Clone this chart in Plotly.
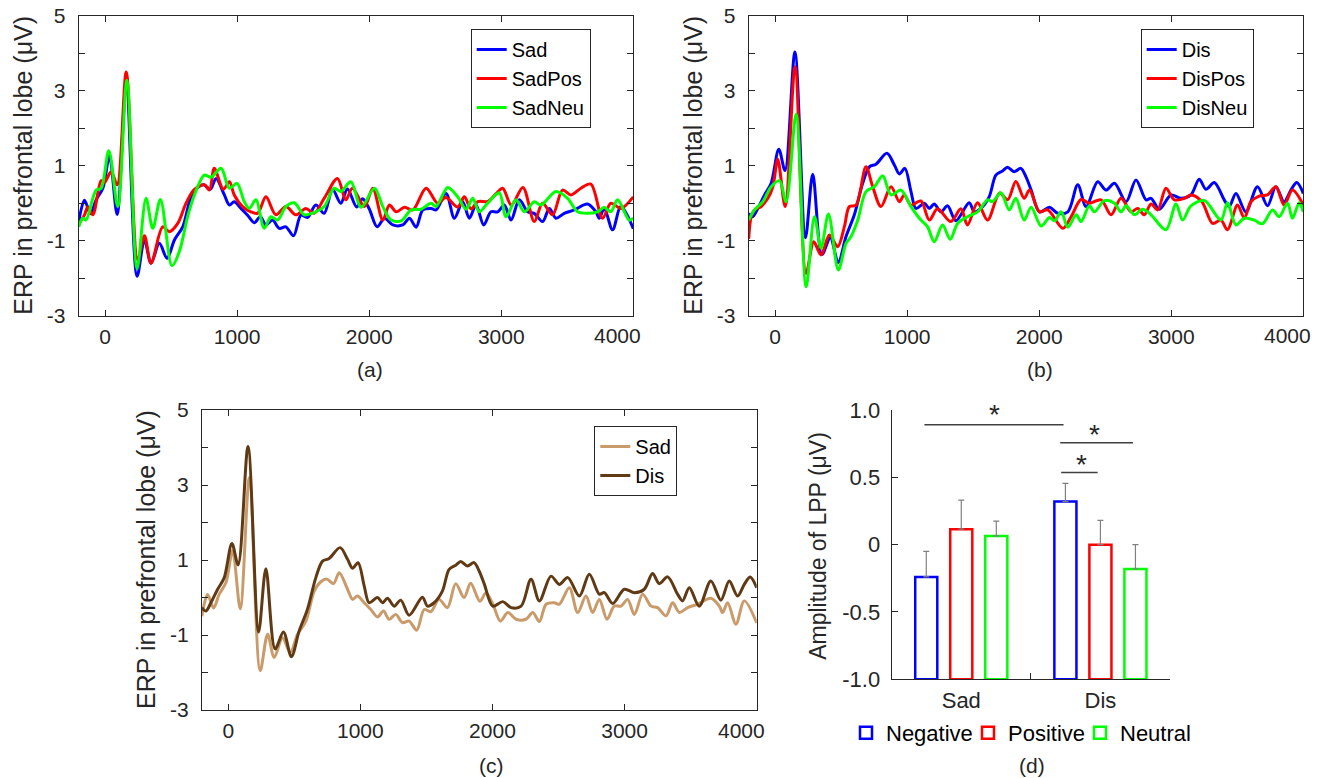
import plotly.graph_objects as go

# ---------------- data ----------------
# Panel (a): Sad conditions
sad_t = [-200, -156, -111, -68, -17, 33, 91, 160, 242, 298, 348, 411, 469, 525, 588, 651, 701, 746, 797,
         840, 903, 941, 978, 1029, 1079, 1130, 1175, 1218, 1268, 1319, 1369, 1427, 1483, 1533, 1596, 1659,
         1722, 1785, 1835, 1905, 1950, 2000, 2060, 2116, 2179, 2254, 2305, 2355, 2406, 2469, 2506, 2582,
         2645, 2708, 2758, 2809, 2867, 2922, 2973, 3023, 3074, 3137, 3200, 3250, 3313, 3364, 3414, 3477,
         3553, 3653, 3717, 3742, 3780, 3843, 3906, 4000]
sad_v = [-0.5, 0.08, -0.28, 0.09, 0.40, 1.25, -0.30, 3.2, -1.95, -0.98, -1.6, -1.07, -1.47, -0.98, -0.63,
         0.17, 0.42, 0.49, 0.37, 0.66, 0.22, -0.05, 0.04, -0.14, -0.32, -0.52, -0.36, -0.58, -0.45, -0.67,
         -0.63, -0.87, -0.32, -0.38, -0.05, -0.27, 0.37, 0.0, 0.38, -0.1, 0.12, -0.15, -0.63, -0.40, -0.58,
         -0.58, -0.40, -0.64, -0.18, -0.14, -0.18, 0.26, -0.40, 0.04, -0.40, -0.05, -0.58, -0.23, -0.23,
         -0.05, -0.45, 0.09, -0.23, -0.27, -0.49, -0.14, -0.40, -0.27, -0.18, -0.02, -0.23, -0.40, -0.14,
         -0.71, -0.09, -0.68]

sadpos_t = [-200, -156, -131, -93, -30, -5, 46, 91, 160, 247, 298, 348, 436, 487, 550, 613, 676, 752, 790,
            827, 895, 941, 978, 1041, 1104, 1155, 1218, 1293, 1369, 1445, 1520, 1583, 1659, 1760, 1823,
            1873, 1964, 2027, 2103, 2153, 2204, 2267, 2330, 2431, 2518, 2581, 2670, 2721, 2771, 2822, 2900,
            2960, 3011, 3076, 3164, 3250, 3313, 3389, 3464, 3528, 3603, 3679, 3767, 3830, 3906, 4000]
sadpos_v = [-0.55, -0.31, -0.1, -0.31, 0.6, 0.55, 0.84, 0.49, 3.5, -1.51, -0.87, -1.6, -0.63, -0.76, -0.54,
            0.0, 0.37, 0.49, 0.35, 0.93, 0.37, 0.57, 0.22, -0.09, -0.23, -0.27, 0.17, -0.31, -0.09, -0.31,
            -0.14, -0.27, 0.13, 0.66, 0.09, 0.40, -0.09, 0.40, -0.45, -0.05, -0.23, -0.11, -0.18, 0.40, 0.0,
            0.15, -0.1, 0.17, -0.15, 0.04, 0.05, 0.25, 0.40, -0.05, 0.42, -0.49, 0.0, -0.31, 0.35, 0.22,
            0.40, 0.51, -0.40, 0.0, -0.14, 0.17]

sadneu_t = [-200, -169, -145, -93, -68, -30, 28, 96, 165, 242, 310, 361, 419, 507, 562, 625, 676, 752, 802,
            878, 941, 999, 1054, 1092, 1142, 1205, 1256, 1306, 1369, 1432, 1508, 1583, 1659, 1735, 1785,
            1861, 1939, 2040, 2103, 2166, 2242, 2317, 2393, 2469, 2506, 2595, 2670, 2733, 2784, 2834, 2897,
            2985, 3036, 3111, 3175, 3250, 3300, 3414, 3502, 3578, 3653, 3729, 3780, 3830, 3881, 3969, 4000]
sadneu_v = [-0.63, -0.40, -0.45, 0.13, 0.35, 0.40, 1.40, -0.09, 3.28, -1.75, 0.13, -0.67, 0.10, -1.67,
            -1.29, -0.36, 0.22, 0.75, 0.69, 0.93, 0.40, 0.53, 0.04, -0.14, 0.09, -0.67, -0.36, -0.45, -0.09,
            0.01, -0.31, -0.25, -0.09, 0.40, 0.31, 0.57, -0.11, 0.40, -0.09, -0.45, -0.47, -0.18, -0.16, 0.0,
            -0.09, 0.42, 0.17, -0.16, 0.13, -0.23, 0.0, 0.28, -0.36, 0.09, -0.23, 0.04, -0.05, 0.31, 0.13,
            -0.23, -0.27, -0.23, -0.11, -0.23, 0.09, -0.45, -0.40]

# Panel (b): Disgust conditions
dis_t = [-200, -169, -131, -80, -30, 28, 75, 150, 230, 285, 355, 418, 478, 537, 600, 663, 714, 764, 847,
         903, 941, 983, 1029, 1067, 1130, 1168, 1205, 1256, 1306, 1369, 1470, 1508, 1558, 1621, 1672, 1722,
         1760, 1810, 1861, 1900, 1939, 2002, 2078, 2141, 2217, 2292, 2355, 2443, 2506, 2570, 2658, 2733,
         2809, 2847, 2910, 2998, 3074, 3149, 3212, 3263, 3326, 3401, 3439, 3490, 3565, 3653, 3729, 3792,
         3855, 3906, 3951, 4000]
dis_v = [-0.27, -0.36, -0.14, 0.22, 0.53, 1.44, 0.87, 4.03, -0.92, 0.77, -1.37, -0.92, -1.58, -0.89, -0.31,
         0.53, 0.97, 1.04, 1.33, 1.02, 0.78, 0.93, 0.31, -0.14, 0.0, -0.14, -0.02, -0.23, -0.07, -0.47, 0.01,
         -0.23, -0.14, 0.17, 0.75, 0.86, 0.96, 0.84, 0.93, 0.7, 0.35, -0.23, -0.11, -0.27, -0.23, 0.49,
         -0.09, 0.57, 0.35, 0.53, 0.04, 0.62, 0.09, 0.13, -0.16, 0.22, 0.13, 0.22, 0.64, 0.37, 0.55, 0.09,
         -0.09, 0.26, -0.23, 0.44, -0.07, 0.44, 0.04, 0.35, 0.55, 0.26]

dispos_t = [-200, -181, -156, -106, -55, -17, 20, 76, 151, 235, 293, 348, 411, 474, 525, 562, 613, 688, 739,
            802, 878, 941, 978, 1029, 1104, 1168, 1230, 1331, 1407, 1457, 1533, 1609, 1700, 1761, 1823,
            1886, 1927, 2002, 2065, 2179, 2242, 2317, 2380, 2469, 2544, 2620, 2695, 2746, 2796, 2847, 2897,
            2960, 3023, 3099, 3150, 3230, 3313, 3376, 3426, 3502, 3553, 3603, 3666, 3729, 3792, 3855, 3918,
            4000]
dispos_v = [-0.95, -0.36, -0.18, -0.09, 0.13, 0.44, 1.17, -0.09, 3.64, -1.87, -1.03, -1.38, -0.85, -1.16,
            -0.62, -0.09, -0.05, 0.97, 0.44, -0.09, 0.44, 0.04, 0.22, -0.05, 0.06, -0.45, -0.15, -0.49,
            -0.15, -0.58, 0.01, -0.45, 0.27, 0.09, 0.58, 0.13, 0.35, -0.23, -0.18, -0.67, -0.36, 0.10, 0.0,
            0.09, -0.31, 0.13, -0.23, -0.14, -0.31, -0.02, -0.18, 0.40, 0.09, 0.13, 0.22, 0.05, -0.54, -0.45,
            -0.71, -0.05, -0.40, 0.04, 0.19, 0.22, 0.44, -0.05, 0.35, -0.05]

disneu_t = [-200, -156, -93, -30, 33, 83, 159, 235, 298, 348, 404, 479, 537, 575, 626, 688, 752, 815, 878,
            953, 1029, 1104, 1155, 1205, 1268, 1326, 1382, 1457, 1533, 1609, 1646, 1710, 1773, 1823, 1886,
            1939, 2015, 2078, 2116, 2166, 2217, 2280, 2317, 2380, 2418, 2494, 2570, 2620, 2658, 2721, 2784,
            2847, 2960, 3036, 3086, 3149, 3250, 3376, 3426, 3490, 3553, 3628, 3691, 3767, 3817, 3881, 3918,
            3969, 4000]
disneu_v = [-0.45, -0.18, 0.04, 0.44, 0.60, 0.04, 2.38, -2.23, -0.36, -1.2, -0.29, -1.78, -1.07, -0.89,
            -0.45, 0.31, 0.44, 0.73, 0.22, 0.35, -0.09, -0.45, -0.63, -1.03, -0.58, -0.96, -0.54, -0.36,
            -0.23, 0.09, 0.04, 0.28, -0.18, 0.13, -0.45, -0.11, -0.61, -0.38, -0.47, -0.23, -0.64, -0.31,
            -0.49, -0.07, -0.23, 0.07, 0.0, -0.23, -0.07, -0.31, -0.16, -0.31, -0.71, -0.02, -0.45, -0.07,
            0.07, -0.45, 0.01, -0.58, -0.40, -0.45, -0.55, -0.18, -0.36, 0.0, -0.40, 0.01, -0.23]

# Panel (d): LPP amplitudes (bars rise from the -1.0 baseline)
lpp_groups = ["Sad", "Dis"]
lpp_negative = [-0.24, 0.32]
lpp_positive = [0.115, 0.0]
lpp_neutral = [0.065, -0.18]
err_negative = [0.19, 0.135]
err_positive = [0.215, 0.18]
err_neutral = [0.11, 0.18]
sig_x0 = [-0.265, 0.711, 0.718]
sig_x1 = [0.735, 1.234, 0.980]
sig_y = [0.891, 0.757, 0.535]
star_x = [0.238, 0.955, 0.862]
star_y = [1.006, 0.852, 0.634]

erp_ticks = [0, 1000, 2000, 3000, 4000]
erp_ticktext = ["0", "1000", "2000", "3000", ""]   # last label drawn right-aligned at the axis end
erp_last_label = "4000"
erp_yticks = [-3, -2, -1, 0, 1, 2, 3, 4, 5]
erp_yticktext = ["-3", "", "-1", "", "1", "", "3", "", "5"]
lpp_yticks = [-1.0, -0.5, 0.0, 0.5, 1.0]
lpp_yticktext = ["-1.0", "-0.5", "0", "0.5", "1.0"]

# ---------------- styling helpers ----------------
W, H = 1325, 778
FONT = "Liberation Sans, Arial, sans-serif"
AX = "#262626"
BASE = -1.0
LPP_MIN, LPP_MAX = -1.0, 1.0


def fx(px):
    return px / W


def fy(py):
    return 1 - py / H


fig = go.Figure()


def erp(t, v, name, color, ax, leg):
    fig.add_trace(go.Scatter(
        x=t, y=v, name=name, mode="lines",
        line=dict(color=color, width=3, shape="spline", smoothing=0.9),
        xaxis="x" + ax, yaxis="y" + ax, legend=leg, hoverinfo="x+y+name"))


erp(sad_t, sad_v, "Sad", "#0000FF", "", "legend")
erp(sadpos_t, sadpos_v, "SadPos", "#FF0000", "", "legend")
erp(sadneu_t, sadneu_v, "SadNeu", "#00FF00", "", "legend")
erp(dis_t, dis_v, "Dis", "#0000FF", "2", "legend2")
erp(dispos_t, dispos_v, "DisPos", "#FF0000", "2", "legend2")
erp(disneu_t, disneu_v, "DisNeu", "#00FF00", "2", "legend2")
erp(sad_t, sad_v, "Sad", "#C99B6B", "3", "legend3")
erp(dis_t, dis_v, "Dis", "#603A14", "3", "legend3")

for name, vals, errs, color, lw in [("Negative", lpp_negative, err_negative, "#0000FF", 77),
                                    ("Positive", lpp_positive, err_positive, "#FF0000", 67),
                                    ("Neutral", lpp_neutral, err_neutral, "#00FF00", 67)]:
    fig.add_trace(go.Bar(
        x=lpp_groups, y=[v - BASE for v in vals], base=BASE, name=name,
        marker=dict(color="white", line=dict(color=color, width=2.5)),
        error_y=dict(type="data", array=errs, arrayminus=[0] * len(errs), symmetric=False,
                     color="#808080", thickness=1.2, width=3),
        xaxis="x4", yaxis="y4", legend="legend4", legendwidth=lw))

tickfont = dict(family=FONT, size=21, color=AX)


def erp_axes(xd, yd, anchor_x, anchor_y):
    xa = dict(domain=xd, range=[-200, 4000], anchor=anchor_y, tickvals=erp_ticks, ticktext=erp_ticktext,
              ticks="inside", ticklen=6, tickcolor=AX, showline=True, linecolor=AX, linewidth=1,
              mirror="ticks", showgrid=False, zeroline=False, tickfont=tickfont, ticklabelstandoff=2,
              automargin=False)
    ya = dict(domain=yd, range=[-3, 5], anchor=anchor_x, tickvals=erp_yticks, ticktext=erp_yticktext,
              ticks="inside", ticklen=6, tickcolor=AX, showline=True, linecolor=AX, linewidth=1,
              mirror="ticks", showgrid=False, zeroline=False, tickfont=tickfont, ticklabelstandoff=8,
              automargin=False)
    return xa, ya


xa1, ya1 = erp_axes([fx(78.7), fx(633.3)], [fy(315.7), fy(15.7)], "x", "y")
xa2, ya2 = erp_axes([fx(748.7), fx(1303.3)], [fy(315.7), fy(15.7)], "x2", "y2")
xa3, ya3 = erp_axes([fx(201.8), fx(756.7)], [fy(710), fy(410)], "x3", "y3")

legbase = dict(xanchor="left", yanchor="top", bordercolor=AX, borderwidth=1, bgcolor="white",
               font=dict(family=FONT, size=20, color="black"), tracegroupgap=0)

fig.update_layout(
    width=W, height=H, margin=dict(l=0, r=0, t=0, b=0, pad=0, autoexpand=False),
    paper_bgcolor="white", plot_bgcolor="white",
    font=dict(family=FONT, color=AX),
    xaxis=xa1, yaxis=ya1, xaxis2=xa2, yaxis2=ya2, xaxis3=xa3, yaxis3=ya3,
    xaxis4=dict(domain=[fx(891.7), fx(1170)], anchor="y4", type="category", range=[-0.5, 1.5],
                tickson="boundaries", ticks="inside", ticklen=6, tickcolor=AX, showline=True,
                linecolor=AX, linewidth=1.2, showgrid=False, zeroline=False, automargin=False,
                tickfont=dict(family=FONT, size=22, color=AX), ticklabelstandoff=1),
    yaxis4=dict(domain=[fy(679.3), fy(410)], anchor="x4", range=[LPP_MIN, LPP_MAX], tickvals=lpp_yticks,
                ticktext=lpp_yticktext, ticks="inside", ticklen=6, tickcolor=AX, showline=True,
                linecolor=AX, linewidth=1.2, showgrid=False, zeroline=False, automargin=False,
                tickfont=dict(family=FONT, size=22, color=AX), ticklabelstandoff=6),
    barmode="group", bargap=0.245, bargroupgap=0.37,
    legend=dict(x=fx(470.7), y=fy(29), **legbase),
    legend2=dict(x=fx(1140.7), y=fy(29), **legbase),
    legend3=dict(x=fx(594.3), y=fy(426), **legbase),
    legend4=dict(x=fx(846), y=fy(712), xanchor="left", yanchor="top", orientation="h",
                 borderwidth=0, bgcolor="rgba(0,0,0,0)", entrywidthmode="pixels",
                 font=dict(family=FONT, size=22, color="black")),
    showlegend=True,
)

# right-aligned last tick label of each ERP panel (kept inside the figure as in the reference)
for xr, yr in [("x", "y"), ("x2", "y2"), ("x3", "y3")]:
    fig.add_annotation(x=1, y=0, xref=xr + " domain", yref=yr + " domain", text=erp_last_label,
                       showarrow=False, xanchor="right", yanchor="middle", xshift=10, yshift=-20,
                       font=tickfont)

# significance bars and stars in panel (d)
for x0, x1, y in zip(sig_x0, sig_x1, sig_y):
    fig.add_shape(type="line", xref="x4", yref="y4", x0=x0, x1=x1, y0=y, y1=y,
                  line=dict(color="#404040", width=1.5))
for x, y in zip(star_x, star_y):
    fig.add_annotation(x=x, y=(y - LPP_MIN) / (LPP_MAX - LPP_MIN), xref="x4", yref="y4 domain", text="*",
                       showarrow=False, font=dict(family=FONT, size=28, color=AX),
                       xanchor="center", yanchor="middle", yshift=-5)

# axis titles and panel labels
ytitle = "ERP in prefrontal lobe (μV)"
for x, y in [(23, 165.7), (693, 165.7), (146, 560)]:
    fig.add_annotation(x=fx(x), y=fy(y), xref="paper", yref="paper", text=ytitle, textangle=-90,
                       showarrow=False, xanchor="center", yanchor="middle",
                       font=dict(family=FONT, size=25, color=AX))
fig.add_annotation(x=fx(818), y=fy(545.8), xref="paper", yref="paper", text="Amplitude of LPP (μV)",
                   textangle=-90, showarrow=False, xanchor="center", yanchor="middle",
                   font=dict(family=FONT, size=23, color=AX))
for lab, x, y in [("(a)", 370, 370), ("(b)", 1040, 370), ("(c)", 491, 765), ("(d)", 1032, 765)]:
    fig.add_annotation(x=fx(x), y=fy(y), xref="paper", yref="paper", text=lab, showarrow=False,
                       xanchor="center", yanchor="middle", font=dict(family=FONT, size=21, color=AX))

fig.write_html("out.html", config={"displayModeBar": False},
               post_script="document.body.style.margin='0px';")
